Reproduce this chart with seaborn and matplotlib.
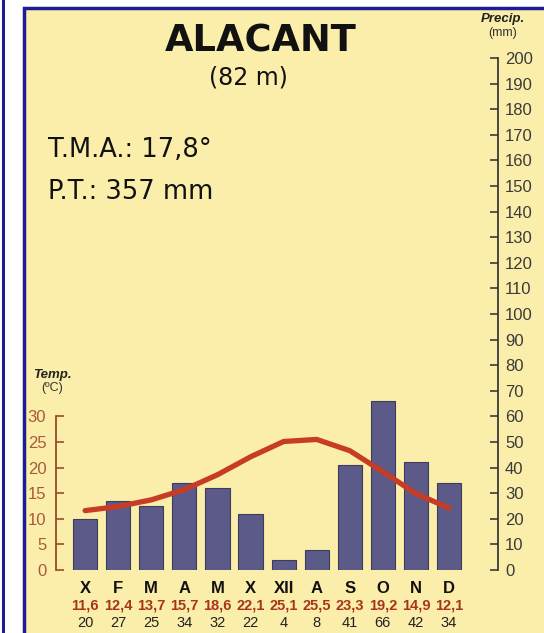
import matplotlib.pyplot as plt
import matplotlib.transforms as mtransforms
from matplotlib.patches import Rectangle
import seaborn as sns

# Climate data for Alacant
months = ["X", "F", "M", "A", "M", "X", "XII", "A", "S", "O", "N", "D"]
temps = [11.6, 12.4, 13.7, 15.7, 18.6, 22.1, 25.1, 25.5, 23.3, 19.2, 14.9, 12.1]
precip = [20, 27, 25, 34, 32, 22, 4, 8, 41, 66, 42, 34]
temp_labels = ["11,6", "12,4", "13,7", "15,7", "18,6", "22,1", "25,1", "25,5", "23,3", "19,2", "14,9", "12,1"]
idx = list(range(len(months)))

sns.set_style("white")
plt.rcParams['font.family'] = ['Liberation Sans', 'DejaVu Sans']

W, H = 544, 633
fig = plt.figure(figsize=(W / 100, H / 100), dpi=100)
fig.patch.set_facecolor("white")

# background frame
panel = "#fbeeaa"
navy = "#1c1c96"
fig.patches.append(Rectangle((24 / W, -0.1), 1.2, 1 - 8 / H + 0.1, transform=fig.transFigure,
                             facecolor=panel, edgecolor=navy, linewidth=2.5, zorder=-10))
fig.patches.append(Rectangle((1.5 / W, -0.1), 3 / W, 1.2, transform=fig.transFigure,
                             facecolor=navy, edgecolor="none", zorder=-10))

left, right, bottom, top = 56, 498, 570, 58
ax = fig.add_axes([left / W, 1 - bottom / H, (right - left) / W, (bottom - top) / H])
ax.patch.set_visible(False)

# precipitation bars
sns.barplot(x=idx, y=precip, ax=ax, color="#5c5a88", width=0.73, edgecolor="#3c3c5c",
            linewidth=0.8, saturation=1, zorder=2)

# temperature line on a twin axis
ax2 = ax.twinx()
sns.lineplot(x=idx, y=temps, ax=ax2, color="#c63c24", linewidth=3.8, solid_capstyle="round",
             solid_joinstyle="round", zorder=3)

# precipitation axis on the right
ax.set_ylim(0, 200)
ax.set_xlim(-0.88, 12.48)
ax.yaxis.tick_right()
ax.set_yticks(range(0, 201, 10))
ax.tick_params(axis="y", direction="in", length=6, width=1.2, pad=5, labelsize=12,
               colors="#3a3a3a")
for s in ["left", "top", "bottom"]:
    ax.spines[s].set_visible(False)
ax.spines["right"].set_visible(True)
ax.spines["right"].set_color("#3a3a3a")
ax.spines["right"].set_linewidth(1.3)
ax.set_xticks(idx)
ax.set_xticklabels(months, fontsize=12, fontweight="bold", color="#111111")
ax.tick_params(axis="x", length=0, pad=8)
ax.set_xlabel("")
ax.set_ylabel("")

# temperature axis on the left
ax2.set_ylim(0, 100)
ax2.yaxis.tick_left()
ax2.set_yticks(range(0, 31, 5))
ax2.tick_params(axis="y", direction="in", length=6, width=1.2, pad=7, labelsize=12,
                colors="#9b4a2a", labelcolor="#a85a3a")
for s in ["right", "top", "bottom"]:
    ax2.spines[s].set_visible(False)
ax2.spines["left"].set_visible(True)
ax2.spines["left"].set_bounds(0, 30)
ax2.spines["left"].set_color("#9b4a2a")
ax2.spines["left"].set_linewidth(1.3)
ax2.set_xlim(-0.88, 12.48)
ax2.set_ylabel("")

# value rows below the months
trans = mtransforms.blended_transform_factory(ax.transData, ax.transAxes)
for i in idx:
    ax.text(i, -(606 - bottom) / (bottom - top), temp_labels[i], transform=trans, ha="center",
            va="center", fontsize=10.5, fontweight="bold", color="#a8341c")
    ax.text(i, -(623 - bottom) / (bottom - top), str(precip[i]), transform=trans, ha="center",
            va="center", fontsize=10.5, color="#222222")

# titles and notes
fig.text(261 / W, 1 - 41 / H, "ALACANT", ha="center", va="center", fontsize=26.5,
         fontweight="bold", color="#111111", family="DejaVu Sans")
fig.text(248 / W, 1 - 77 / H, "(82 m)", ha="center", va="center", fontsize=17,
         color="#111111", family="DejaVu Sans")
fig.text(48 / W, 1 - 150 / H, "T.M.A.: 17,8°", ha="left", va="center", fontsize=18.5,
         color="#111111", family="DejaVu Sans")
fig.text(48 / W, 1 - 192 / H, "P.T.: 357 mm", ha="left", va="center", fontsize=18.5,
         color="#111111", family="DejaVu Sans")
fig.text(503 / W, 1 - 19 / H, "Precip.", ha="center", va="center", fontsize=9.5,
         fontweight="bold", fontstyle="italic", color="#222222")
fig.text(503 / W, 1 - 33 / H, "(mm)", ha="center", va="center", fontsize=9, color="#333333")
fig.text(52 / W, 1 - 375 / H, "Temp.", ha="center", va="center", fontsize=9.5,
         fontweight="bold", fontstyle="italic", color="#222222")
fig.text(52 / W, 1 - 388 / H, "(ºC)", ha="center", va="center", fontsize=9, color="#333333")

plt.savefig("out.png", dpi=100)
